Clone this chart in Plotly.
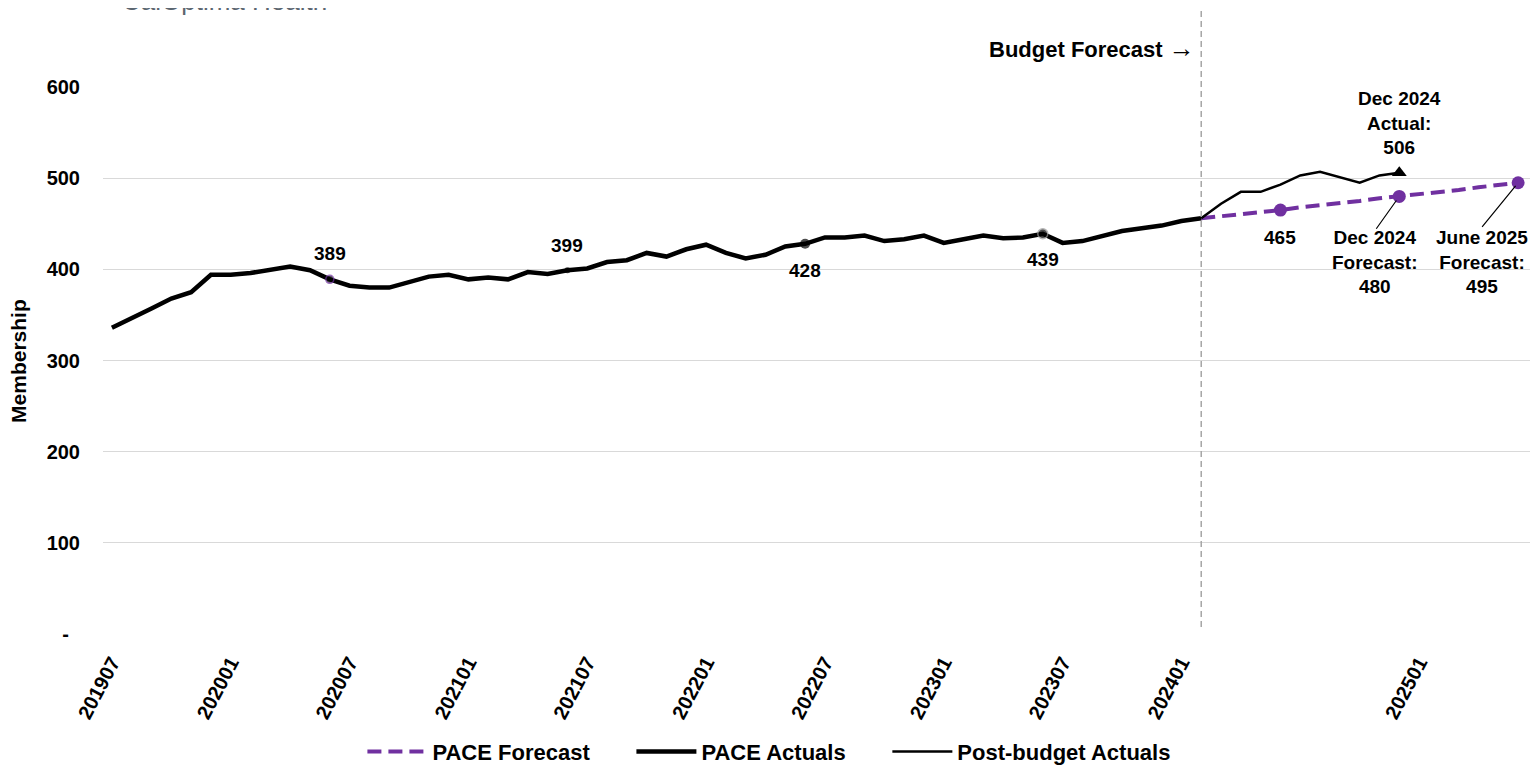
import plotly.graph_objects as go

# months 201907 .. 202506
months = []
for y in range(2019, 2026):
    for m in range(1, 13):
        ym = f"{y}{m:02d}"
        if "201907" <= ym <= "202506":
            months.append(ym)

tick_months = ["201907", "202001", "202007", "202101", "202107", "202201",
               "202207", "202301", "202307", "202401", "202501"]

# PACE actuals through budget cut-off (201907 .. 202402)
pace_actuals = [336, 346, 357, 368, 375, 394, 394, 396, 399, 403, 399, 389,
                382, 380, 380, 386, 392, 394, 389, 391, 389, 397, 395, 399,
                401, 408, 410, 418, 414, 422, 427, 418, 412, 416, 425, 428,
                435, 435, 437, 431, 433, 437, 429, 433, 437, 434, 435, 439,
                429, 431, 437, 442, 445, 448, 453, 456]

# post-budget actuals (202402 .. 202412)
post_months = months[55:66]
post_actuals = [456, 472, 485, 485, 493, 503, 507, 501, 495, 503, 506]

# budget forecast (202402 .. 202506)
fc_months = months[55:]
pace_forecast = [456, 458, 461, 463, 465, 468, 470, 473, 475, 478, 480, 482,
                 485, 487, 490, 492, 495]

# labelled points
lab_months = ["202006", "202106", "202206", "202306"]
lab_values = [389, 399, 428, 439]
lab_shift = [26, 25, -27, -26]
fc_lab_months = ["202406", "202412", "202506"]
fc_lab_values = [465, 480, 495]
budget_start = "202402"

PURPLE = "#7030A0"
FONT = "Liberation Sans, Arial, sans-serif"
NB = "\u00a0"


def idx(m):
    # category position for annotations / shapes
    return months.index(m)


fig = go.Figure()

fig.add_trace(go.Scatter(
    x=fc_months, y=pace_forecast, mode="lines", name="<b>PACE Forecast</b>" + NB * 6,
    line=dict(color=PURPLE, width=4, dash="14px,7px")))
fig.add_trace(go.Scatter(
    x=months[:56], y=pace_actuals, mode="lines", name="<b>PACE Actuals</b>" + NB * 6,
    line=dict(color="black", width=4.5)))
fig.add_trace(go.Scatter(
    x=post_months, y=post_actuals, mode="lines", name="<b>Post-budget Actuals</b>",
    line=dict(color="black", width=2.5)))

# markers
fig.add_trace(go.Scatter(
    x=fc_lab_months, y=fc_lab_values, mode="markers", showlegend=False,
    marker=dict(color=PURPLE, size=13)))
fig.add_trace(go.Scatter(
    x=[post_months[-1]], y=[post_actuals[-1]], mode="markers", showlegend=False,
    marker=dict(color="black", size=13, symbol="triangle-up")))
fig.add_trace(go.Scatter(
    x=lab_months, y=lab_values, mode="markers", showlegend=False,
    marker=dict(color="black", size=[8, 6, 10, 10],
                line=dict(color=[PURPLE, "black", "black", "#9a9a9a"],
                          width=[1.5, 0, 0, 1.5]))))

ann = []
for m, v, s in zip(lab_months, lab_values, lab_shift):
    ann.append(dict(x=idx(m), y=v, text=f"<b>{v}</b>", showarrow=False, yshift=s,
                    font=dict(size=19)))
ann.append(dict(x=idx(fc_lab_months[0]), y=fc_lab_values[0], text=f"<b>{fc_lab_values[0]}</b>",
                showarrow=False, yshift=-27, font=dict(size=19)))
ann.append(dict(x=idx(post_months[-1]), y=post_actuals[-1],
                text=f"<b>Dec 2024<br>Actual:<br>{post_actuals[-1]}</b>",
                showarrow=False, yshift=50, font=dict(size=19)))
ann.append(dict(x=idx(fc_lab_months[1]), y=fc_lab_values[1],
                text=f"<b>Dec 2024<br>Forecast:<br>{fc_lab_values[1]}</b>",
                showarrow=False, xshift=-24, yshift=-66, font=dict(size=19)))
ann.append(dict(x=idx(fc_lab_months[2]), y=fc_lab_values[2],
                text=f"<b>June 2025<br>Forecast:<br>{fc_lab_values[2]}</b>",
                showarrow=False, xshift=-36, yshift=-79, font=dict(size=19)))
# leader lines
ann.append(dict(x=idx(fc_lab_months[1]), y=fc_lab_values[1], text=" ", showarrow=True,
                arrowhead=0, arrowwidth=1.2, arrowcolor="black", ax=-27, ay=38, standoff=5))
ann.append(dict(x=idx(fc_lab_months[2]), y=fc_lab_values[2], text=" ", showarrow=True,
                arrowhead=0, arrowwidth=1.2, arrowcolor="black", ax=-40, ay=49, standoff=4))
# budget forecast marker
ann.append(dict(x=idx(budget_start), y=1.071, yref="paper", xanchor="right", yanchor="middle",
                xshift=-4,
                text="<b>Budget Forecast</b> <span style='font-size:26px'>\u2192</span>",
                showarrow=False, font=dict(size=22)))
# y title
ann.append(dict(x=-0.0687, y=0.5, xref="paper", yref="paper", textangle=-90,
                text="<b>Membership</b>", showarrow=False, font=dict(size=21)))
# logo text (cut off at top edge)
ann.append(dict(x=0.012, y=1.157, xref="paper", yref="paper", xanchor="left", yanchor="middle",
                text="CalOptima Health", showarrow=False,
                font=dict(size=26, color="#5b6670")))

fig.update_layout(
    width=1531, height=759,
    paper_bgcolor="white", plot_bgcolor="white",
    font=dict(family=FONT, color="black", size=18),
    margin=dict(l=95, r=9, t=79, b=133),
    annotations=ann,
    shapes=[
        dict(type="line", xref="x", yref="paper", x0=idx(budget_start), x1=idx(budget_start),
             y0=0.013, y1=1.16, line=dict(color="#a6a6a6", width=1.5, dash="6px,4px")),
    ],
    legend=dict(orientation="h", x=0.467, xanchor="center", y=0.02, yref="container",
                yanchor="middle", font=dict(size=22), itemwidth=60, traceorder="normal"),
    xaxis=dict(type="category", categoryorder="array", categoryarray=months,
               range=[-0.45, 71.6], tickvals=tick_months,
               ticktext=[f"<b>{t}</b>" for t in tick_months],
               tickangle=-62, tickfont=dict(size=20), showgrid=False, automargin=False,
               ticks="", ticklabelstandoff=12, zeroline=False, showline=False),
    yaxis=dict(range=[0, 600], tickvals=[0, 100, 200, 300, 400, 500, 600],
               ticktext=["<b>-</b>" + NB * 2] + [f"<b>{v}</b>" for v in range(100, 601, 100)],
               tickfont=dict(size=20), gridcolor="#d9d9d9", gridwidth=1.2, automargin=False,
               zeroline=False, showline=False, ticks="", ticklabelstandoff=22),
)

fig.write_html("out.html")
